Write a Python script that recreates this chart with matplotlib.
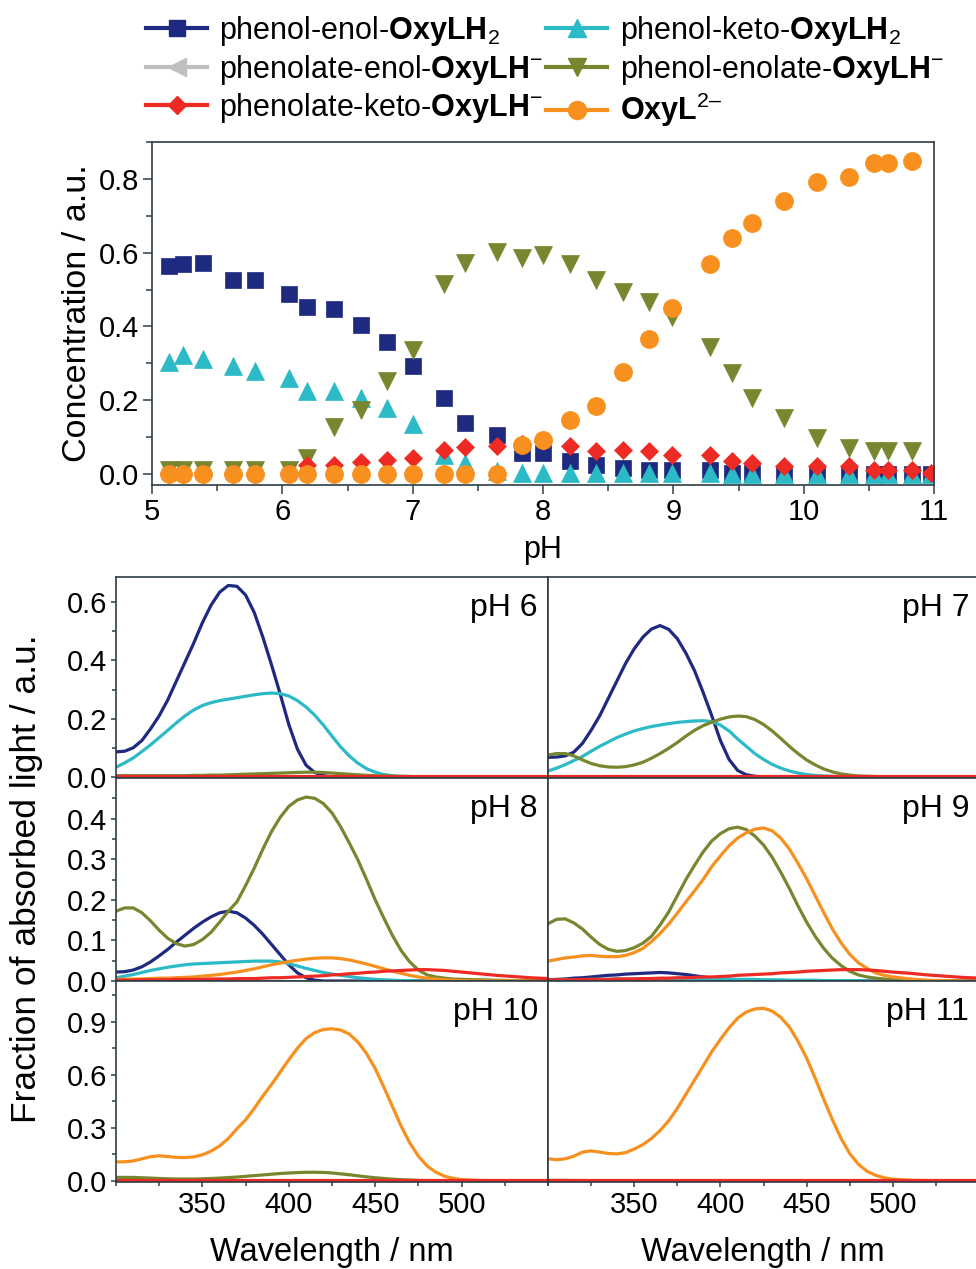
import matplotlib
matplotlib.use('Agg')
import matplotlib.pyplot as plt
from matplotlib.lines import Line2D
from matplotlib.ticker import MultipleLocator, FixedLocator, FormatStrFormatter

plt.rcParams['font.family'] = ['Liberation Sans', 'DejaVu Sans']
plt.rcParams['mathtext.fontset'] = 'custom'
plt.rcParams['mathtext.rm'] = 'Liberation Sans'
plt.rcParams['mathtext.it'] = 'Liberation Sans:italic'
plt.rcParams['mathtext.bf'] = 'Liberation Sans:bold'

# ---- concentration vs pH (top panel) ----
ph = [5.13, 5.24, 5.39, 5.62, 5.79, 6.05, 6.19, 6.40, 6.60, 6.80, 7.00,
      7.24, 7.40, 7.65, 7.84, 8.00, 8.21, 8.41, 8.61, 8.81, 8.99, 9.28,
      9.45, 9.60, 9.85, 10.10, 10.35, 10.54, 10.65, 10.83, 10.98]
nan = float('nan')
conc_enol = [0.564, 0.568, 0.572, 0.527, 0.527, 0.489, 0.453, 0.446, 0.403,
             0.359, 0.294, 0.207, 0.139, 0.106, 0.057, 0.058, 0.034, 0.025,
             0.016, 0.012, 0.010, 0.010, 0.003, 0.003, 0.001, 0.0, 0.0, 0.0,
             0.0, 0.0, 0.0]
conc_keto = [0.304, 0.322, 0.312, 0.294, 0.279, 0.261, 0.225, 0.225, 0.207,
             0.178, 0.135, 0.052, 0.030, 0.007, 0.003, 0.003, 0.003, 0.003,
             0.003, 0.003, 0.003, 0.003, 0.0, 0.0, 0.0, 0.0, 0.0, 0.0, 0.0,
             0.0, 0.0]
# no visible points for this species
conc_phenolate_enol = [nan] * 31
conc_enolate = [0.012, 0.012, 0.012, 0.012, 0.012, 0.012, 0.043, 0.126,
                0.174, 0.253, 0.336, 0.514, 0.572, 0.602, 0.586, 0.593,
                0.570, 0.525, 0.494, 0.467, 0.426, 0.345, 0.273, 0.205,
                0.151, 0.097, 0.070, 0.061, 0.061, 0.061, nan]
conc_phenolate_keto = [0.0, 0.0, 0.0, 0.0, 0.0, 0.003, 0.025, 0.025, 0.032,
                       0.039, 0.043, 0.066, 0.073, 0.077, 0.080, 0.088,
                       0.075, 0.061, 0.064, 0.061, 0.052, 0.052, 0.034,
                       0.030, 0.021, 0.021, 0.021, 0.012, 0.012, 0.012, 0.003]
conc_oxyl = [0.0] * 14 + [0.079, 0.093, 0.147, 0.183, 0.276, 0.367, 0.449,
                          0.568, 0.640, 0.681, 0.739, 0.791, 0.806, 0.842,
                          0.842, 0.848, nan]

# ---- absorbed light spectra ----
wl = [300, 305, 310, 315, 320, 325, 330, 335, 340, 345, 350, 355, 360, 365,
      370, 375, 380, 385, 390, 395, 400, 405, 410, 415, 420, 425, 430, 435,
      440, 445, 450, 455, 460, 465, 470, 475, 480, 485, 490, 495, 500, 510,
      520, 530, 540, 550]

ph6_enol = [0.086, 0.088, 0.10, 0.125, 0.165, 0.21, 0.265, 0.33, 0.395, 0.46,
            0.53, 0.59, 0.635, 0.658, 0.655, 0.625, 0.565, 0.48, 0.385, 0.285,
            0.18, 0.095, 0.04, 0.015, 0.004] + [0.0] * 21
ph6_keto = [0.033, 0.048, 0.065, 0.087, 0.11, 0.135, 0.16, 0.186, 0.21, 0.23,
            0.245, 0.255, 0.262, 0.267, 0.272, 0.277, 0.282, 0.286, 0.288,
            0.286, 0.278, 0.262, 0.24, 0.212, 0.178, 0.14, 0.103, 0.072,
            0.047, 0.028, 0.016, 0.008, 0.004, 0.002, 0.001] + [0.0] * 11
ph6_enolate = [0.004] * 9 + [0.005, 0.005, 0.006, 0.006, 0.007, 0.008, 0.009,
                             0.01, 0.011, 0.012, 0.013, 0.014, 0.015, 0.016,
                             0.016, 0.015, 0.013, 0.011, 0.009, 0.007, 0.005,
                             0.004, 0.003, 0.002, 0.001, 0.001] + [0.0] * 11
ph6_oxyl = [0.001] * 46
ph6_phenolate_keto = [0.002] * 46

ph7_enol = [0.067, 0.068, 0.072, 0.085, 0.115, 0.16, 0.21, 0.27, 0.33, 0.39,
            0.44, 0.48, 0.508, 0.52, 0.507, 0.475, 0.425, 0.365, 0.29, 0.21,
            0.125, 0.06, 0.022, 0.007, 0.002] + [0.0] * 21
ph7_keto = [0.02, 0.03, 0.042, 0.056, 0.07, 0.088, 0.105, 0.12, 0.135, 0.147,
            0.158, 0.166, 0.173, 0.178, 0.183, 0.187, 0.19, 0.192, 0.193,
            0.19, 0.178, 0.158, 0.13, 0.105, 0.08, 0.06, 0.043, 0.03, 0.02,
            0.013, 0.008, 0.005, 0.003, 0.002, 0.001] + [0.0] * 11
ph7_enolate = [0.075, 0.08, 0.08, 0.072, 0.058, 0.046, 0.038, 0.034, 0.033,
               0.035, 0.041, 0.05, 0.064, 0.08, 0.098, 0.118, 0.14, 0.16,
               0.176, 0.188, 0.198, 0.206, 0.209, 0.207, 0.197, 0.18, 0.158,
               0.132, 0.105, 0.08, 0.058, 0.041, 0.027, 0.017, 0.01, 0.006,
               0.003, 0.002, 0.001] + [0.0] * 7
ph7_oxyl = [0.001] * 46
ph7_phenolate_keto = [0.003] * 46

ph8_enol = [0.022, 0.023, 0.027, 0.035, 0.047, 0.062, 0.078, 0.096, 0.113,
            0.13, 0.145, 0.158, 0.168, 0.172, 0.168, 0.155, 0.137, 0.115,
            0.09, 0.065, 0.04, 0.02, 0.008, 0.002] + [0.0] * 22
ph8_keto = [0.008, 0.012, 0.016, 0.021, 0.026, 0.03, 0.034, 0.037, 0.04,
            0.042, 0.043, 0.044, 0.045, 0.046, 0.047, 0.048, 0.049, 0.049,
            0.049, 0.047, 0.043, 0.037, 0.031, 0.026, 0.021, 0.017, 0.014,
            0.011, 0.008, 0.006, 0.004, 0.003, 0.002, 0.001, 0.001] + [0.0] * 11
ph8_enolate = [0.172, 0.18, 0.18, 0.168, 0.148, 0.125, 0.105, 0.092, 0.086,
               0.09, 0.102, 0.12, 0.145, 0.172, 0.195, 0.235, 0.278, 0.325,
               0.368, 0.403, 0.43, 0.446, 0.453, 0.45, 0.437, 0.414, 0.38,
               0.34, 0.298, 0.25, 0.2, 0.155, 0.112, 0.075, 0.047, 0.027,
               0.015, 0.01, 0.007, 0.005, 0.004, 0.003, 0.002, 0.001, 0.001,
               0.0]
ph8_oxyl = [0.004, 0.004, 0.005, 0.005, 0.006, 0.007, 0.007, 0.008, 0.009,
            0.01, 0.012, 0.014, 0.016, 0.019, 0.022, 0.026, 0.03, 0.035, 0.04,
            0.044, 0.048, 0.051, 0.054, 0.056, 0.057, 0.057, 0.055, 0.052,
            0.047, 0.042, 0.036, 0.03, 0.024, 0.019, 0.014, 0.01, 0.007,
            0.005, 0.003, 0.002, 0.001] + [0.0] * 5
ph8_phenolate_keto = [0.002, 0.002, 0.002, 0.003, 0.003, 0.003, 0.003, 0.004,
                      0.004, 0.004, 0.004, 0.005, 0.005, 0.005, 0.006, 0.006,
                      0.006, 0.007, 0.008, 0.008, 0.009, 0.01, 0.011, 0.012,
                      0.013, 0.015, 0.016, 0.018, 0.019, 0.021, 0.022, 0.024,
                      0.025, 0.026, 0.027, 0.028, 0.028, 0.027, 0.026, 0.024,
                      0.022, 0.018, 0.014, 0.011, 0.008, 0.006]

ph9_enol = [0.003, 0.004, 0.005, 0.007, 0.008, 0.01, 0.012, 0.014, 0.015,
            0.017, 0.018, 0.019, 0.02, 0.021, 0.02, 0.018, 0.016, 0.013, 0.01,
            0.007, 0.004, 0.002, 0.001] + [0.0] * 23
ph9_keto = [0.002, 0.002, 0.003, 0.003, 0.003, 0.004, 0.004, 0.004, 0.005,
            0.005, 0.005, 0.005, 0.006, 0.006, 0.006, 0.006, 0.006, 0.006,
            0.006, 0.005, 0.005, 0.005, 0.004, 0.004, 0.004, 0.003, 0.003,
            0.003, 0.002, 0.002, 0.002, 0.002, 0.001, 0.001, 0.001, 0.001,
            0.001] + [0.0] * 9
ph9_enolate = [0.141, 0.152, 0.153, 0.143, 0.128, 0.108, 0.09, 0.078, 0.073,
               0.075, 0.082, 0.093, 0.11, 0.138, 0.17, 0.21, 0.25, 0.285,
               0.318, 0.345, 0.363, 0.375, 0.379, 0.373, 0.357, 0.335, 0.305,
               0.268, 0.228, 0.185, 0.145, 0.11, 0.08, 0.056, 0.038, 0.024,
               0.015, 0.01, 0.007, 0.005, 0.003, 0.001] + [0.0] * 4
ph9_oxyl = [0.049, 0.053, 0.057, 0.059, 0.062, 0.063, 0.061, 0.06, 0.06, 0.063,
            0.07, 0.08, 0.097, 0.117, 0.14, 0.167, 0.195, 0.222, 0.25, 0.282,
            0.308, 0.333, 0.352, 0.365, 0.374, 0.377, 0.37, 0.352, 0.325,
            0.29, 0.252, 0.21, 0.168, 0.128, 0.094, 0.066, 0.045, 0.031,
            0.02, 0.014, 0.01, 0.005, 0.002, 0.001, 0.0, 0.0]
ph9_phenolate_keto = [0.003, 0.003, 0.003, 0.003, 0.004, 0.004, 0.004, 0.004,
                      0.005, 0.005, 0.005, 0.006, 0.006, 0.007, 0.007, 0.008,
                      0.008, 0.009, 0.01, 0.01, 0.011, 0.012, 0.014, 0.015,
                      0.016, 0.017, 0.018, 0.02, 0.021, 0.022, 0.024, 0.025,
                      0.026, 0.027, 0.028, 0.028, 0.028, 0.027, 0.026, 0.024,
                      0.022, 0.019, 0.015, 0.012, 0.009, 0.007]

ph10_enolate = [0.02, 0.02, 0.02, 0.018, 0.016, 0.014, 0.012, 0.011, 0.011,
                0.011, 0.012, 0.014, 0.016, 0.019, 0.022, 0.026, 0.03, 0.034,
                0.038, 0.042, 0.045, 0.047, 0.049, 0.049, 0.048, 0.045, 0.04,
                0.035, 0.029, 0.023, 0.018, 0.014, 0.01, 0.007, 0.005, 0.003,
                0.002, 0.001] + [0.0] * 8
ph10_oxyl = [0.108, 0.108, 0.113, 0.125, 0.137, 0.142, 0.138, 0.133, 0.132,
             0.136, 0.148, 0.168, 0.198, 0.24, 0.295, 0.345, 0.41, 0.48, 0.545,
             0.615, 0.685, 0.75, 0.805, 0.838, 0.856, 0.86, 0.853, 0.83, 0.785,
             0.72, 0.635, 0.53, 0.42, 0.31, 0.215, 0.14, 0.085, 0.05, 0.027,
             0.015, 0.008, 0.003, 0.001, 0.0, 0.0, 0.0]
ph10_phenolate_keto = [0.005] * 46

ph11_enolate = [0.003, 0.003, 0.003, 0.002, 0.002, 0.001] + [0.0] * 40
ph11_oxyl = [0.125, 0.12, 0.125, 0.14, 0.163, 0.17, 0.163, 0.155, 0.153, 0.16,
             0.18, 0.205, 0.24, 0.285, 0.34, 0.41, 0.49, 0.57, 0.65, 0.73,
             0.8, 0.865, 0.92, 0.955, 0.972, 0.976, 0.96, 0.925, 0.87, 0.79,
             0.695, 0.58, 0.46, 0.345, 0.24, 0.155, 0.095, 0.055, 0.032,
             0.018, 0.01, 0.004, 0.002, 0.0, 0.0, 0.0]
ph11_phenolate_keto = [0.003] * 46

species_labels = [
    'phenol-enol-$\\mathbf{OxyLH}_{\\mathrm{2}}$',
    'phenol-keto-$\\mathbf{OxyLH}_{\\mathrm{2}}$',
    'phenolate-enol-$\\mathbf{OxyLH}^{\\mathrm{-}}$',
    'phenol-enolate-$\\mathbf{OxyLH}^{\\mathrm{-}}$',
    'phenolate-keto-$\\mathbf{OxyLH}^{\\mathrm{-}}$',
    '$\\mathbf{OxyL}^{\\mathrm{2\u2013}}$',
]
panel_titles = ['pH 6', 'pH 7', 'pH 8', 'pH 9', 'pH 10', 'pH 11']

# species styles: colour, marker, marker size
c_enol, c_keto, c_pe, c_enolate, c_pk, c_oxyl = (
    '#1d2a80', '#2cbac6', '#bfbfbf', '#78872f', '#ee2a24', '#f7901e')
styles = [
    (c_enol, 's', 11.5),
    (c_keto, '^', 13),
    (c_pe, '<', 13),
    (c_enolate, 'v', 13),
    (c_pk, 'D', 9.5),
    (c_oxyl, 'o', 13),
]
conc = [conc_enol, conc_keto, conc_phenolate_enol, conc_enolate,
        conc_phenolate_keto, conc_oxyl]
draw_order = [2, 0, 1, 3, 4, 5]

W, H = 976, 1269
def box(l, t, r, b):
    return [l / W, 1 - b / H, (r - l) / W, (b - t) / H]

spine_col = '#2f3d46'
fig = plt.figure(figsize=(W / 100, H / 100), dpi=100)

def style_axes(ax, major_len, minor_len):
    for s in ax.spines.values():
        s.set_color(spine_col)
        s.set_linewidth(1.2)
    ax.tick_params(which='both', direction='out', color=spine_col, width=1.1,
                   labelsize=21, pad=3)
    ax.tick_params(which='major', length=major_len)
    ax.tick_params(which='minor', length=minor_len)

# top panel
ax = fig.add_axes(box(152, 142, 934, 485))
for i in draw_order:
    col, mk, ms = styles[i]
    ax.plot(ph, conc[i], ls='none', marker=mk, ms=ms, color=col, mec=col,
            mew=0.5)
ax.set_xlim(5, 11)
ax.set_ylim(-0.03, 0.90)
ax.xaxis.set_major_locator(MultipleLocator(1))
ax.xaxis.set_minor_locator(MultipleLocator(0.5))
ax.yaxis.set_major_locator(MultipleLocator(0.2))
ax.yaxis.set_minor_locator(MultipleLocator(0.1))
ax.yaxis.set_major_formatter(FormatStrFormatter('%.1f'))
style_axes(ax, 6.5, 4.5)
ax.set_ylabel('Concentration / a.u.', fontsize=24.5, labelpad=4)
fig.text(543 / W, 1 - 550 / H, 'pH', fontsize=22, ha='center', va='center')

handles = [Line2D([], [], color=styles[i][0], marker=styles[i][1],
                  ms=styles[i][2], lw=3) for i in range(6)]
order = [0, 2, 4, 1, 3, 5]
fig.legend([handles[i] for i in order], [species_labels[i] for i in order],
           ncol=2, loc='upper left', bbox_to_anchor=(146 / W, 1 - 14 / H),
           frameon=False, fontsize=22, handlelength=2.0, handletextpad=0.4,
           columnspacing=0.1, labelspacing=0.15, borderpad=0,
           borderaxespad=0, numpoints=1)

# spectra panels
panels = [
    [ph6_enol, ph6_keto, None, ph6_enolate, ph6_phenolate_keto, ph6_oxyl],
    [ph7_enol, ph7_keto, None, ph7_enolate, ph7_phenolate_keto, ph7_oxyl],
    [ph8_enol, ph8_keto, None, ph8_enolate, ph8_phenolate_keto, ph8_oxyl],
    [ph9_enol, ph9_keto, None, ph9_enolate, ph9_phenolate_keto, ph9_oxyl],
    [None, None, None, ph10_enolate, ph10_phenolate_keto, ph10_oxyl],
    [None, None, None, ph11_enolate, ph11_phenolate_keto, ph11_oxyl],
]
line_order = [0, 1, 3, 5, 4]
cols = [(116, 548), (548, 979)]
rows = [(577, 778), (778, 981), (981, 1182)]
row_ylim = [(-0.004, 0.687), (0.0, 0.5), (-0.006, 1.13)]
row_ticks = [[0.0, 0.2, 0.4, 0.6], [0.0, 0.1, 0.2, 0.3, 0.4],
             [0.0, 0.3, 0.6, 0.9]]
row_minor = [[0.1, 0.3, 0.5], [0.05, 0.15, 0.25, 0.35, 0.45],
             [0.15, 0.45, 0.75, 1.05]]

for k, series in enumerate(panels):
    r, c = divmod(k, 2)
    l, rr = cols[c]
    t, b = rows[r]
    a = fig.add_axes(box(l, t, rr, b))
    for i in line_order:
        if series[i] is not None:
            a.plot(wl, series[i], color=styles[i][0], lw=2.3)
    a.set_xlim(300, 550)
    a.set_ylim(*row_ylim[r])
    a.xaxis.set_major_locator(FixedLocator([350, 400, 450, 500]))
    a.xaxis.set_minor_locator(MultipleLocator(25))
    a.yaxis.set_major_locator(FixedLocator(row_ticks[r]))
    a.yaxis.set_minor_locator(FixedLocator(row_minor[r]))
    a.yaxis.set_major_formatter(FormatStrFormatter('%.1f'))
    style_axes(a, 3.5, 3)
    if r < 2:
        a.tick_params(which='both', bottom=False, labelbottom=False)
    if c == 1:
        a.tick_params(which='both', left=False, labelleft=False)
    a.text(1 - 10 / (rr - l), 1 - 16 / (b - t), panel_titles[k],
           transform=a.transAxes, ha='right', va='top', fontsize=23)

fig.text(27 / W, 1 - 879 / H, 'Fraction of absorbed light / a.u.',
         rotation=90, ha='center', va='center', fontsize=25.5)
fig.text(332 / W, 1 - 1252 / H, 'Wavelength / nm', ha='center', va='center',
         fontsize=23.5)
fig.text(763 / W, 1 - 1252 / H, 'Wavelength / nm', ha='center', va='center',
         fontsize=23.5)

fig.savefig('out.png', dpi=100)
